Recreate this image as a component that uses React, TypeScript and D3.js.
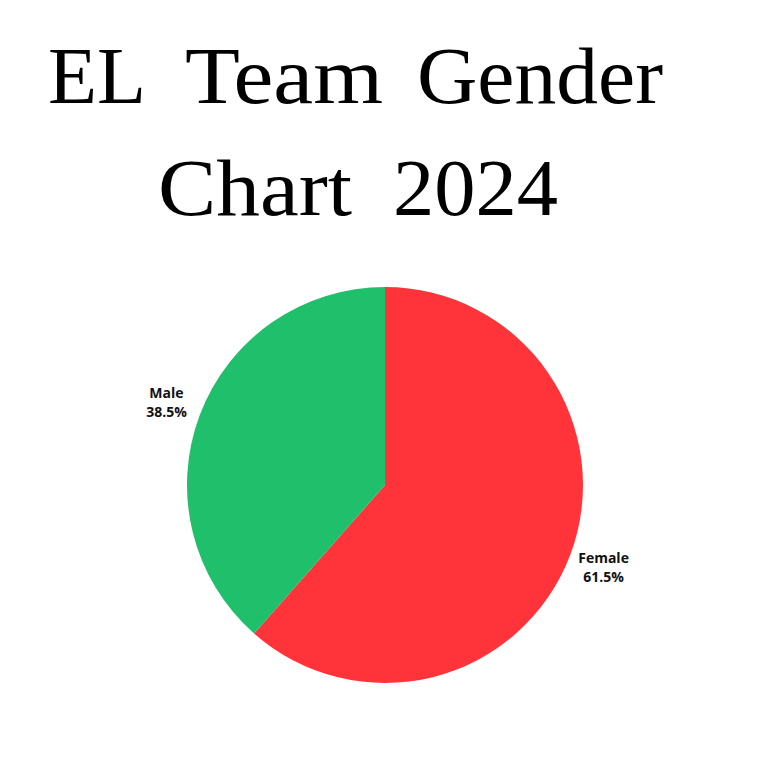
import { useEffect, useRef } from 'react';
import * as d3 from 'd3';

const categories = ['Female', 'Male'];
const shares = [61.5, 38.5];
const colors = ['#FF343B', '#20BF6B'];
const titleLines = ['EL Team Gender', 'Chart 2024'];

// word boxes for the condensed display title: [x, width] per word
const titleWordBoxes = [
  [[48, 98], [185, 198], [417, 246]],
  [[158, 194], [393, 165]],
];
const titleBaselines = [103, 215];

type Slice = { name: string; value: number; color: string };

export default function App() {
  const svgRef = useRef<SVGSVGElement>(null);

  useEffect(() => {
    if (!svgRef.current) return;
    const svg = d3.select(svgRef.current);
    svg.selectAll('*').remove();

    const width = 758;
    const height = 760;
    const cx = 385;
    const cy = 485;
    const radius = 198;

    svg.attr('viewBox', `0 0 ${width} ${height}`);
    svg.append('rect').attr('width', width).attr('height', height).attr('fill', '#fff');

    // Title, one text per word so the glyphs can be squeezed like the display face
    titleLines.forEach((line, i) => {
      line.split(' ').forEach((word, j) => {
        const [x, w] = titleWordBoxes[i][j];
        svg.append('text')
          .attr('x', x).attr('y', titleBaselines[i])
          .attr('textLength', w)
          .attr('lengthAdjust', 'spacingAndGlyphs')
          .attr('fill', '#000')
          .style('font-family', '"Liberation Serif", serif')
          .style('font-size', '80px')
          .text(word);
      });
    });

    const data: Slice[] = categories.map((c, i) => ({ name: c, value: shares[i], color: colors[i] }));
    const pie = d3.pie<Slice>().value((d) => d.value).sort(null);
    const arcs = pie(data);
    const arcFn = d3.arc<d3.PieArcDatum<Slice>>().innerRadius(0).outerRadius(radius);
    const labelArc = d3.arc<d3.PieArcDatum<Slice>>()
      .innerRadius(radius * 1.18)
      .outerRadius(radius * 1.18);

    const g = svg.append('g').attr('transform', `translate(${cx},${cy})`);

    g.selectAll('path.slice')
      .data(arcs)
      .join('path')
      .attr('class', 'slice')
      .attr('d', arcFn)
      .attr('fill', (d) => d.data.color);

    // Labels
    arcs.forEach((a) => {
      const [lx, ly] = labelArc.centroid(a);
      const t = g.append('text')
        .attr('x', lx).attr('y', ly)
        .attr('text-anchor', 'middle')
        .attr('fill', '#111')
        .style('font-family', '"Open Sans", sans-serif')
        .style('font-weight', 700)
        .style('font-size', '14px');
      t.append('tspan').attr('x', lx).attr('dy', '-0.35em').text(a.data.name);
      t.append('tspan').attr('x', lx).attr('dy', '1.38em').text(`${a.data.value}%`);
    });
  }, []);

  return (
    <svg
      ref={svgRef}
      width={758}
      height={760}
      style={{ position: 'absolute', left: 0, top: 0, display: 'block' }}
    />
  );
}
